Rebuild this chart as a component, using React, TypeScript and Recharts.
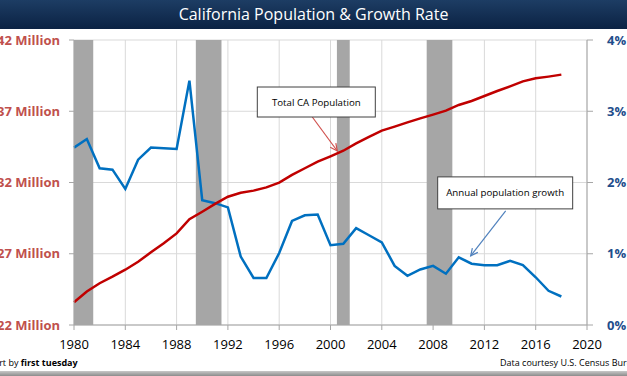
import React from "react";
import {
  CartesianGrid,
  Line,
  LineChart,
  ReferenceArea,
  ReferenceDot,
  XAxis,
  YAxis,
} from "recharts";

const years = [
  1980, 1981, 1982, 1983, 1984, 1985, 1986, 1987, 1988, 1989, 1990, 1991, 1992, 1993, 1994, 1995, 1996, 1997, 1998,
  1999, 2000, 2001, 2002, 2003, 2004, 2005, 2006, 2007, 2008, 2009, 2010, 2011, 2012, 2013, 2014, 2015, 2016, 2017,
  2018,
];

// total population, millions
const population = [
  23.6, 24.35, 24.93, 25.39, 25.88, 26.44, 27.1, 27.73, 28.43, 29.42, 29.95, 30.5, 31.0, 31.28, 31.43, 31.66, 31.99,
  32.53, 33.0, 33.46, 33.84, 34.23, 34.75, 35.2, 35.64, 35.92, 36.22, 36.5, 36.76, 37.04, 37.44, 37.72, 38.07, 38.42,
  38.75, 39.1, 39.31, 39.43, 39.57,
];

// annual growth, percent
const growth = [
  2.49, 2.61, 2.2, 2.18, 1.91, 2.32, 2.49, 2.48, 2.47, 3.43, 1.75, 1.71, 1.65, 0.96, 0.66, 0.66, 1.01, 1.46, 1.54,
  1.55, 1.12, 1.14, 1.36, 1.26, 1.16, 0.83, 0.69, 0.78, 0.83, 0.72, 0.95, 0.86, 0.84, 0.84, 0.9, 0.84, 0.67, 0.48,
  0.4,
];

const recessions: Array<[number, number]> = [
  [1980, 1981.5],
  [1989.5, 1991.5],
  [2000.5, 2001.5],
  [2007.5, 2009.5],
];

const yearTicks = [1980, 1984, 1988, 1992, 1996, 2000, 2004, 2008, 2012, 2016, 2020];
const popTicks = [22, 27, 32, 37, 42];
const pctTicks = [0, 1, 2, 3, 4];

// callout anchors: [year, value]
const popCallout = { label: "Total CA Population", at: [2000.53, 34.21] as [number, number] };
const growthCallout = { label: "Annual population growth", at: [2010.93, 0.97] as [number, number] };

const data = years.map((year, i) => ({ year, pop: population[i], pct: growth[i] }));

const RED = "#c00000";
const BLUE = "#0070c0";

type CalloutProps = {
  cx?: number;
  cy?: number;
  text: string;
  color: string;
  box: { dx: number; dy: number; w: number; h: number };
  tail: { dx: number; dy: number };
};

function Callout({ cx = 0, cy = 0, text, color, box, tail }: CalloutProps) {
  const sx = cx + tail.dx;
  const sy = cy + tail.dy;
  const ang = Math.atan2(cy - sy, cx - sx);
  const hl = 8;
  const a1 = ang + Math.PI - 0.45;
  const a2 = ang + Math.PI + 0.45;
  return (
    <g>
      <line x1={sx} y1={sy} x2={cx} y2={cy} stroke={color} strokeWidth={1.2} />
      <polyline
        points={`${cx + hl * Math.cos(a1)},${cy + hl * Math.sin(a1)} ${cx},${cy} ${cx + hl * Math.cos(a2)},${cy + hl * Math.sin(a2)}`}
        fill="none"
        stroke={color}
        strokeWidth={1.2}
      />
      <rect x={cx + box.dx} y={cy + box.dy} width={box.w} height={box.h} fill="#fff" stroke="#404040" strokeWidth={1} />
      <text
        x={cx + box.dx + box.w / 2}
        y={cy + box.dy + box.h / 2}
        textAnchor="middle"
        dominantBaseline="central"
        fontSize={9.7}
        fill="#000"
        fontFamily="Open Sans"
      >
        {text}
      </text>
    </g>
  );
}

export default function App() {
  return (
    <div
      style={{
        position: "fixed",
        left: 0,
        top: 0,
        width: 627,
        height: 376,
        overflow: "hidden",
        background: "#fff",
        fontFamily: "'Open Sans', sans-serif",
      }}
    >
      <div style={{ position: "absolute", left: 0, top: 0 }}>
        <LineChart width={627} height={376} data={data} margin={{ top: 40, right: 0, bottom: 21, left: 0 }}>
          <CartesianGrid stroke="#d9d9d9" yAxisId="left" />
          <XAxis
            dataKey="year"
            type="number"
            domain={[1980, 2020]}
            ticks={yearTicks}
            height={30}
            tickSize={5}
            tickMargin={10}
            stroke="#a6a6a6"
            tick={{ fill: "#000", fontSize: 13, fontFamily: "Open Sans" }}
          />
          <YAxis
            yAxisId="left"
            domain={[22, 42]}
            ticks={popTicks}
            width={74}
            tickSize={5}
            tickMargin={9}
            stroke="#a6a6a6"
            tickFormatter={(v: number) => `${v} Million`}
            tick={{ fill: "#c0504d", fontSize: 13, fontWeight: 700, fontFamily: "Open Sans" }}
          />
          <YAxis
            yAxisId="right"
            orientation="right"
            domain={[0, 4]}
            ticks={pctTicks}
            width={40}
            tickSize={6}
            tickMargin={14}
            stroke="#a6a6a6"
            tickFormatter={(v: number) => `${v}%`}
            tick={{ fill: "#1f4e8c", fontSize: 13, fontWeight: 700, fontFamily: "Open Sans", textAnchor: "start" }}
          />
          {recessions.map(([a, b]) => (
            <ReferenceArea
              key={a}
              x1={a}
              x2={b}
              yAxisId="left"
              y1={22}
              y2={42}
              fill="#a6a6a6"
              fillOpacity={1}
              stroke="none"
            />
          ))}
          <Line
            yAxisId="right"
            dataKey="pct"
            type="linear"
            stroke={BLUE}
            strokeWidth={2.5}
            dot={false}
            isAnimationActive={false}
          />
          <Line
            yAxisId="left"
            dataKey="pop"
            type="linear"
            stroke={RED}
            strokeWidth={2.5}
            dot={false}
            isAnimationActive={false}
          />
          <ReferenceDot
            yAxisId="left"
            x={popCallout.at[0]}
            y={popCallout.at[1]}
            r={0}
            shape={(p: any) => (
              <Callout
                cx={p.cx}
                cy={p.cy}
                text={popCallout.label}
                color="#d0504d"
                box={{ dx: -80, dy: -64, w: 118, h: 30 }}
                tail={{ dx: -25, dy: -34 }}
              />
            )}
          />
          <ReferenceDot
            yAxisId="right"
            x={growthCallout.at[0]}
            y={growthCallout.at[1]}
            r={0}
            shape={(p: any) => (
              <Callout
                cx={p.cx}
                cy={p.cy}
                text={growthCallout.label}
                color="#4f81bd"
                box={{ dx: -33, dy: -79, w: 135, h: 32 }}
                tail={{ dx: 35, dy: -45 }}
              />
            )}
          />
        </LineChart>
      </div>
      <div
        style={{
          position: "absolute",
          left: 0,
          top: 0,
          width: 627,
          height: 29,
          background: "linear-gradient(#1d3d64, #0b2243)",
          color: "#fff",
          fontSize: 16,
          lineHeight: "29px",
          textAlign: "center",
        }}
      >
        California Population &amp; Growth Rate
      </div>
      <div style={{ position: "absolute", left: -17, top: 356, fontSize: 9, lineHeight: "14px", color: "#000", whiteSpace: "nowrap" }}>
        Chart by <b>first tuesday</b>
      </div>
      <div style={{ position: "absolute", left: 500, top: 356, fontSize: 9, lineHeight: "14px", color: "#000", whiteSpace: "nowrap" }}>
        Data courtesy U.S. Census Bureau
      </div>
      <div
        style={{
          position: "absolute",
          left: 0,
          top: 371,
          width: 627,
          height: 5,
          background: "linear-gradient(#c8c8c8, #8c8c8c)",
        }}
      />
    </div>
  );
}
